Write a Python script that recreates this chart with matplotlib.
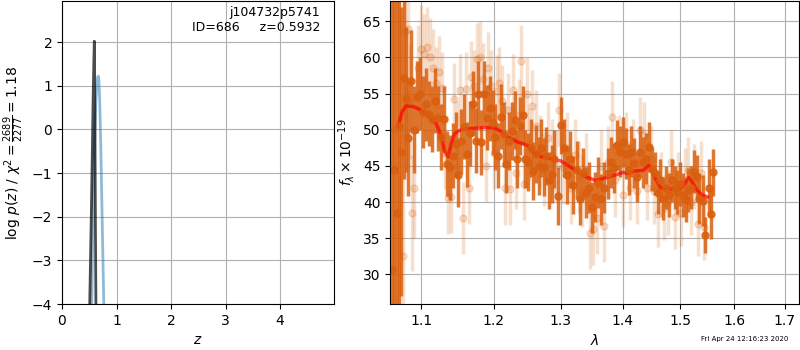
import numpy as np
import matplotlib.pyplot as plt
from matplotlib.ticker import FixedLocator, ScalarFormatter, NullLocator

# p(z) panel
z_pz = [0.50, 0.54, 0.57, 0.585, 0.5932, 0.603, 0.613, 0.625]
logp = [-4.6, -1.8, 0.6, 1.6, 2.02, 0.4, -2.2, -4.6]
z_chi = [0.54, 0.57, 0.60, 0.62, 0.64, 0.655, 0.665, 0.675, 0.69, 0.71, 0.73, 0.75, 0.77, 0.78]
chi_curve = [-4.6, -2.0, -0.2, 0.6, 1.05, 1.2, 1.22, 1.15, 0.75, -0.3, -1.6, -2.9, -4.2, -4.6]

# spectrum, first PA (solid points)
wave_a = [1.062, 1.065, 1.068, 1.071, 1.074, 1.077, 1.080, 1.083, 1.086, 1.090,
          1.094, 1.098, 1.102, 1.106, 1.110, 1.114, 1.118, 1.122, 1.126, 1.130,
          1.134, 1.138, 1.142, 1.146, 1.150, 1.154, 1.158, 1.162, 1.166, 1.170,
          1.174, 1.178, 1.182, 1.186, 1.190, 1.194, 1.198, 1.202, 1.206, 1.210,
          1.214, 1.218, 1.222, 1.226, 1.230, 1.234, 1.238, 1.242, 1.246, 1.250,
          1.254, 1.258, 1.262, 1.266, 1.270, 1.274, 1.278, 1.282, 1.286, 1.290,
          1.295, 1.300, 1.305, 1.310, 1.315, 1.320, 1.325, 1.330, 1.335, 1.340,
          1.345, 1.350, 1.355, 1.360, 1.365, 1.370, 1.375, 1.380, 1.385, 1.390,
          1.395, 1.400, 1.405, 1.410, 1.415, 1.420, 1.425, 1.430, 1.435, 1.440,
          1.445, 1.450, 1.455, 1.460, 1.465, 1.470, 1.475, 1.480, 1.485, 1.490,
          1.495, 1.500, 1.505, 1.510, 1.515, 1.520, 1.525, 1.530, 1.535, 1.541,
          1.545, 1.552, 1.556, 1.561]
flux_a = [30.8, 44.5, 38.5, 50.5, 47.0, 57.2, 54.2, 48.8, 56.8, 50.0,
          54.5, 55.0, 52.5, 53.5, 52.2, 51.5, 54.0, 51.6, 49.0, 51.5,
          45.3, 44.8, 46.4, 48.0, 43.8, 48.4, 50.4, 46.6, 49.5, 53.6,
          48.5, 55.0, 48.3, 55.0, 51.7, 53.0, 51.0, 49.0, 46.4, 51.8,
          49.4, 45.3, 48.5, 49.8, 51.3, 46.0, 50.5, 52.0, 46.0, 45.5,
          47.5, 44.3, 46.7, 45.0, 47.5, 44.8, 46.4, 43.0, 43.9, 46.0,
          40.8, 50.6, 47.5, 43.8, 45.9, 42.4, 44.5, 40.4, 44.0, 41.3,
          42.0, 39.3, 40.7, 42.7, 40.4, 42.0, 44.0, 45.5, 44.7, 47.9,
          47.0, 48.3, 46.7, 44.5, 47.0, 45.4, 43.5, 47.0, 45.5, 46.0,
          47.6, 44.6, 44.0, 41.3, 43.0, 40.5, 42.0, 41.0, 43.0, 42.0,
          41.4, 42.5, 41.0, 40.3, 41.7, 42.0, 44.2, 43.5, 40.5, 40.2,
          35.5, 42.0, 38.4, 44.1]
err_a = [45, 40, 38, 30, 20, 14, 10, 8, 7, 6,
         5, 5, 5, 5, 4.5, 4.5, 4.5, 4.5, 4.5, 4.5,
         4.5, 4.5, 4.5, 4.5, 4.5, 4.5, 4.5, 4.5, 4.5, 4.5,
         4.5, 4.5, 4.5, 4.5, 4.5, 4.5, 4.5, 4.5, 4.5, 4.5,
         4.5, 4, 4, 4, 4, 4, 4, 4, 4, 4,
         4, 4, 4, 4, 4, 4, 4, 4, 4, 4,
         4, 4, 4, 4, 4, 4, 4, 3.5, 3.5, 3.5,
         3.5, 3.5, 3.5, 3.5, 3.5, 3.5, 3.5, 3.5, 3.5, 3.5,
         3.5, 3.5, 3.5, 3.5, 3.5, 3.5, 3.5, 3.5, 3.5, 3.5,
         3.5, 3, 3, 3, 3, 3, 3, 3, 3, 3,
         3, 3, 3, 3, 3, 3, 3, 3, 3.5, 3.5,
         2.5, 4, 3.5, 3.2]

# spectrum, second PA (faint points)
wave_b = [1.064, 1.076, 1.079, 1.082, 1.085, 1.088, 1.091, 1.096, 1.100, 1.104,
          1.108, 1.112, 1.116, 1.120, 1.124, 1.128, 1.132, 1.136, 1.140, 1.144,
          1.148, 1.152, 1.156, 1.160, 1.164, 1.168, 1.172, 1.176, 1.180, 1.184,
          1.188, 1.192, 1.196, 1.200, 1.204, 1.208, 1.212, 1.216, 1.220, 1.224,
          1.228, 1.232, 1.236, 1.240, 1.244, 1.248, 1.252, 1.256, 1.262, 1.268,
          1.274, 1.280, 1.286, 1.292, 1.298, 1.304, 1.310, 1.316, 1.322, 1.328,
          1.334, 1.340, 1.346, 1.352, 1.358, 1.364, 1.370, 1.376, 1.382, 1.388,
          1.394, 1.400, 1.406, 1.412, 1.418, 1.424, 1.430, 1.436, 1.442, 1.448,
          1.454, 1.460, 1.466, 1.472, 1.478, 1.484, 1.490, 1.496, 1.502, 1.508,
          1.514, 1.520, 1.526, 1.532, 1.538, 1.544]
flux_b = [50.0, 32.5, 63.5, 64.0, 54.0, 38.5, 42.0, 58.5, 61.2, 60.5,
          61.5, 60.0, 58.5, 56.5, 58.0, 55.8, 46.8, 40.6, 40.7, 54.3,
          49.0, 55.5, 37.8, 55.7, 42.0, 57.3, 56.0, 59.8, 60.0, 57.0,
          45.0, 58.5, 56.0, 46.8, 55.3, 56.5, 54.0, 41.9, 52.8, 41.8,
          55.5, 44.0, 52.0, 59.5, 42.5, 55.0, 48.0, 53.3, 50.5, 47.0,
          44.5, 48.8, 46.5, 45.0, 52.8, 44.8, 47.5, 42.0, 46.5, 43.5,
          41.5, 44.5, 35.7, 36.3, 37.8, 45.0, 36.7, 45.5, 51.8, 43.0,
          47.5, 41.0, 48.0, 42.0, 47.0, 41.5, 50.0, 49.3, 42.0, 46.0,
          41.5, 38.3, 42.5, 39.2, 40.0, 45.5, 38.0, 42.5, 38.5, 43.0,
          44.5, 40.0, 43.5, 37.0, 44.0, 36.5]
err_b = [30, 18, 12, 10, 8, 8, 7, 6, 6, 5.5,
         5.5, 5.5, 5.5, 5, 5, 5, 5, 5, 5, 5,
         5, 5, 5, 5, 5, 5, 5, 5, 5, 5,
         5, 5, 5, 5, 5, 5, 5, 5, 5, 5,
         5, 5, 5, 5, 5, 5, 5, 5, 5, 5,
         5, 5, 5, 5, 5, 5, 5, 5, 5, 5,
         5, 5, 5, 5, 5, 5, 5, 5, 5, 5,
         4.5, 4.5, 4.5, 4.5, 4.5, 4.5, 4.5, 4.5, 4.5, 4.5,
         4.5, 4.5, 4.5, 4.5, 4.5, 4.5, 4.5, 4.5, 4.5, 4.5,
         4.5, 4.5, 4.5, 4.5, 4.5, 4.5]

# best-fit model
wave_m = [1.070, 1.075, 1.080, 1.090, 1.100, 1.110, 1.120, 1.127, 1.131, 1.136,
          1.140, 1.145, 1.155, 1.170, 1.185, 1.200, 1.210, 1.220, 1.235, 1.250,
          1.260, 1.270, 1.280, 1.300, 1.320, 1.340, 1.355, 1.365, 1.380, 1.390,
          1.400, 1.410, 1.420, 1.435, 1.445, 1.455, 1.465, 1.475, 1.485, 1.495,
          1.505, 1.515, 1.520, 1.530, 1.540, 1.550]
flux_m = [50.5, 52.5, 53.3, 53.2, 52.7, 51.8, 50.8, 49.0, 47.0, 46.3,
          48.0, 49.5, 50.1, 50.2, 50.3, 50.3, 49.8, 49.0, 48.3, 47.8,
          46.8, 46.3, 46.1, 45.7, 44.6, 43.5, 43.0, 43.2, 43.6, 43.8,
          44.1, 44.0, 44.3, 44.4, 45.1, 43.5, 42.0, 41.9, 41.8, 41.7,
          42.2, 43.4, 43.0, 41.7, 41.0, 40.7]

spec_color = '#d95f0e'

fig = plt.figure(figsize=(8, 3.5), dpi=100)
ax1 = fig.add_axes([0.0775, 0.131, 0.34, 0.866])
ax2 = fig.add_axes([0.488, 0.131, 0.511, 0.866])

ax1.plot(z_chi, chi_curve, color='tab:blue', alpha=0.5, lw=2)
ax1.plot(z_pz, logp, color='k', alpha=0.7, lw=2)
ax1.set_xlim(0, 4.99)
ax1.set_ylim(-4, 2.94)
ax1.grid()
ax1.set_xlabel('$z$')
ax1.set_ylabel(r'$\log\,p(z)$ / $\chi^2=\frac{2689}{2277}=1.18$')
ax1.text(0.95, 0.985, 'j104732p5741\nID=686     z=0.5932', transform=ax1.transAxes,
         ha='right', va='top', fontsize=9)

ax2.errorbar(wave_b, flux_b, yerr=err_b, color=spec_color, alpha=0.2,
             marker='o', ms=5, linestyle='None', elinewidth=2.5)
ax2.errorbar(wave_a, flux_a, yerr=err_a, color=spec_color, alpha=0.85,
             marker='o', ms=5, linestyle='None', elinewidth=2.5)
ax2.plot(wave_m, flux_m, color='red', alpha=0.7, lw=2.5)

ax2.set_xscale('log')
ax2.set_xlim(1.06, 1.73)
ax2.set_ylim(25.9, 67.8)
ax2.xaxis.set_major_locator(FixedLocator([1.1, 1.2, 1.3, 1.4, 1.5, 1.6, 1.7]))
ax2.xaxis.set_major_formatter(ScalarFormatter())
ax2.xaxis.set_minor_locator(NullLocator())
ax2.grid()
ax2.set_xlabel(r'$\lambda$')
ax2.set_ylabel(r'$f_\lambda\times10^{-19}$')

fig.text(0.985, 0.022, 'Fri Apr 24 12:16:23 2020', ha='right', va='bottom', fontsize=5)

fig.savefig('out.png', dpi=100)
